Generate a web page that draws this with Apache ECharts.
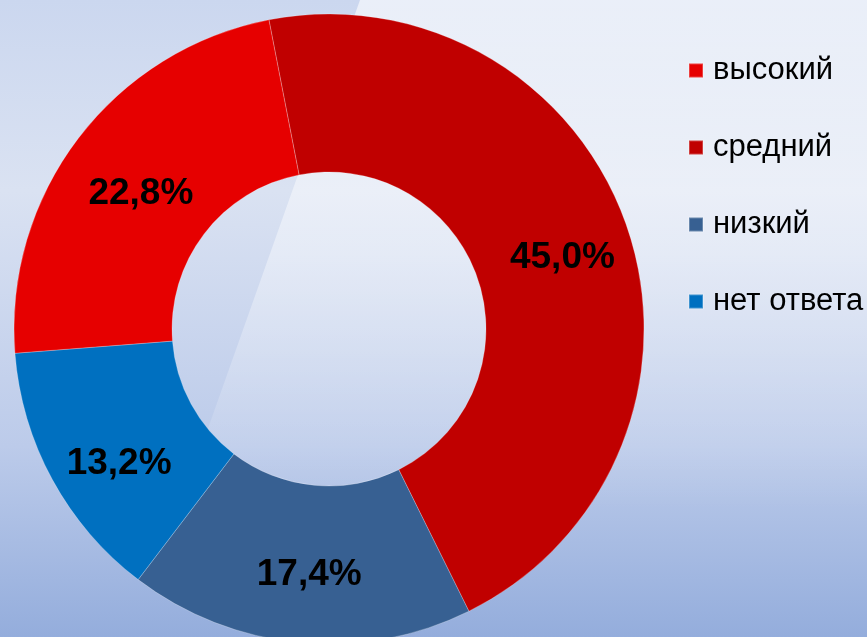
<!DOCTYPE html>
<html>
<head>
<meta charset="utf-8">
<script src="https://cdn.jsdelivr.net/npm/echarts@6/dist/echarts.min.js"></script>
<style>
  html, body { margin: 0; padding: 0; }
  #chart { width: 867px; height: 637px; }
</style>
</head>
<body>
<div id="chart"></div>
<script>
// slices in clockwise order, starting just left of 12 o'clock
const categories = ['средний', 'низкий', 'нет ответа', 'высокий']
const values = [45.0, 17.4, 13.2, 22.8]
const colors = ['#c00000', '#376092', '#0070c0', '#e60000']
const legendOrder = ['высокий', 'средний', 'низкий', 'нет ответа']

// small nudges so the labels sit where the original put them
const labelNudge = {
  'средний': [7, 5],
  'низкий': [3, 8],
  'нет ответа': [0, 21],
  'высокий': [2, 10]
}

const chart = echarts.init(document.getElementById('chart'))

const option = {
  backgroundColor: new echarts.graphic.LinearGradient(0, 0, 0, 1, [
    { offset: 0, color: '#cbd7ef' },
    { offset: 0.3, color: '#dae2f2' },
    { offset: 0.7, color: '#bccbea' },
    { offset: 1, color: '#94addc' }
  ]),
  graphic: [
    {
      // light diagonal streak behind the ring
      type: 'polygon',
      z: 0,
      shape: { points: [[360, 0], [867, 0], [867, 637], [134, 637]] },
      style: {
        fill: new echarts.graphic.LinearGradient(0, 0, 0, 1, [
          { offset: 0, color: 'rgba(255,255,255,0.6)' },
          { offset: 0.4, color: 'rgba(255,255,255,0.4)' },
          { offset: 0.8, color: 'rgba(255,255,255,0)' }
        ])
      }
    }
  ],
  legend: {
    orient: 'vertical',
    left: 683,
    top: 50,
    data: legendOrder,
    icon: 'rect',
    itemWidth: 14,
    itemHeight: 14,
    itemGap: 46,
    textStyle: {
      fontFamily: 'Liberation Sans, Arial, sans-serif',
      fontSize: 31,
      lineHeight: 30,
      padding: [0, 0, 0, 5],
      color: '#000'
    }
  },
  series: [
    {
      type: 'pie',
      center: [329, 329],
      radius: [157, 315],
      startAngle: 101,
      clockwise: true,
      silent: true,
      label: {
        show: true,
        position: 'inside',
        formatter: (p) => p.value.toFixed(1).replace('.', ',') + '%',
        fontFamily: 'Liberation Sans, Arial, sans-serif',
        fontWeight: 'bold',
        fontSize: 37,
        color: '#000'
      },
      labelLine: { show: false },
      itemStyle: {
        borderColor: 'rgba(255,255,255,0.25)',
        borderWidth: 1
      },
      data: categories.map((name, i) => ({
        name: name,
        value: values[i],
        itemStyle: { color: colors[i] },
        label: { offset: labelNudge[name] }
      }))
    }
  ]
}

chart.setOption(option)
</script>
</body>
</html>
